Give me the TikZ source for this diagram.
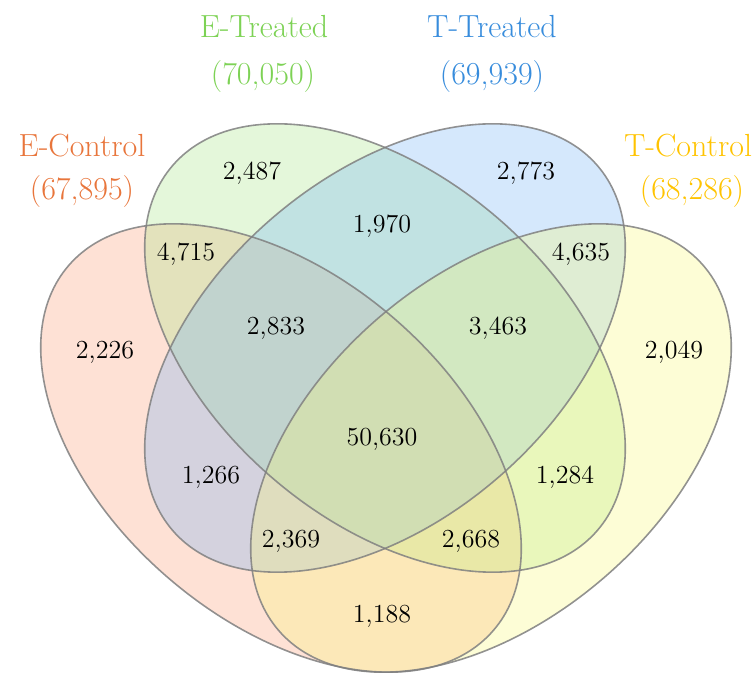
\documentclass[tikz,border=0pt]{standalone}
\usepackage{xcolor}
\usepackage{tikz}
\usetikzlibrary{positioning}
\definecolor{econtrol}{RGB}{251,156,116}
\definecolor{etreated}{RGB}{165,228,132}
\definecolor{ttreated}{RGB}{115,178,245}
\definecolor{tcontrol}{RGB}{248,248,118}
\definecolor{econtroltxt}{RGB}{232,117,59}
\definecolor{etreatedtxt}{RGB}{125,210,85}
\definecolor{ttreatedtxt}{RGB}{55,140,220}
\definecolor{tcontroltxt}{RGB}{255,195,0}
\definecolor{garisabu}{RGB}{128,128,128}

\begin{document}
\begin{tikzpicture}[
    x=0.5pt, y=0.5pt,
    himpunan/.style={fill opacity=0.3},
    garis/.style={draw=garisabu, draw opacity=0.85, line width=0.8pt},
    angka/.style={inner sep=0pt, font=\fontsize{13}{15}\selectfont},
    judul/.style={inner sep=0pt, anchor=base, font=\fontsize{16}{19}\selectfont}
  ]
    \useasboundingbox (0,0) rectangle (756,675);

    % pusat elips
    \coordinate (pEC) at (281,227);
    \coordinate (pET) at (385,327);
    \coordinate (pTT) at (385,327);
    \coordinate (pTC) at (491,227);

    \foreach \p/\sudut/\warna in {pEC/-40.6/econtrol, pET/-40.6/etreated,
                                 pTT/40.6/ttreated, pTC/40.6/tcontrol}
      \fill[himpunan, fill=\warna] (\p) ellipse [x radius=280, y radius=172, rotate=\sudut];
    \foreach \p/\sudut in {pEC/-40.6, pET/-40.6, pTT/40.6, pTC/40.6}
      \draw[garis] (\p) ellipse [x radius=280, y radius=172, rotate=\sudut];

    % judul himpunan
    \node[judul, text=econtroltxt] (ecJudul) at (82,518) {E-Control};
    \node[judul, text=econtroltxt] (ecJumlah) at (82,475) {(67,895)};
    \node[judul, text=etreatedtxt] (etJudul) at (264,637) {E-Treated};
    \node[judul, text=etreatedtxt] (etJumlah) at (263,590) {(70,050)};
    \node[judul, text=ttreatedtxt] (ttJudul) at (492,637) {T-Treated};
    \node[judul, text=ttreatedtxt] (ttJumlah) at (492,590) {(69,939)};
    \node[judul, text=tcontroltxt] (tcJudul) at (688,518) {T-Control};
    \node[judul, text=tcontroltxt] (tcJumlah) at (692,475) {(68,286)};

    % jumlah per daerah
    \node[angka] (et)   at (252,502) {2,487};
    \node[angka] (tt)   at (526,502) {2,773};
    \node[angka] (ettt) at (382,449) {1,970};
    \node[angka] (ecet) at (186,421) {4,715};
    \node[angka] (tttc) at (581,421) {4,635};
    \node[angka] (ec)   at (105,323) {2,226};
    \node[angka] (tc)   at (674,323) {2,049};
    \node[angka] (ecetet) at (276,347) {2,833};
    \node[angka] (etttc)  at (498,347) {3,463};
    \node[angka] (semua)  at (382,236) {50,630};
    \node[angka] (ectt) at (211,198) {1,266};
    \node[angka] (ettc) at (565,198) {1,284};
    \node[angka] (ecetttc) at (291,134) {2,369};
    \node[angka] (ecettc)  at (471,134) {2,668};
    \node[angka] (ectc) at (382,59) {1,188};
  \end{tikzpicture}
\end{document}
